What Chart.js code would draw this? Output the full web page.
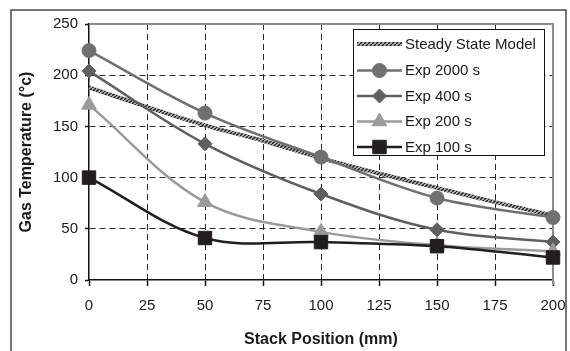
<!DOCTYPE html>
<html><head><meta charset="utf-8">
<script src="https://cdn.jsdelivr.net/npm/chart.js@4.4.1/dist/chart.umd.min.js"></script>
<style>html,body{margin:0;padding:0;background:#fff;}#wrap{width:570px;height:351px;position:relative;}</style>
</head><body><div id="wrap"><canvas id="c" width="570" height="351"></canvas></div>
<script>
// ---- data ----
const stackPositions = [0, 50, 100, 150, 200];
const exp2000 = [224, 163, 120, 80, 61];
const exp400 = [204, 133, 84, 49, 37];
const exp200 = [171, 76, 47, 34, 28];
const exp100 = [100, 41, 37, 33, 22];
const modelPositions = [0, 25, 50, 75, 100, 125, 150, 175, 200];
const modelValues = [188, 169, 151, 136, 119, 104, 90, 76, 63];
const xTickValues = [0, 25, 50, 75, 100, 125, 150, 175, 200];
const yTickValues = [0, 50, 100, 150, 200, 250];
const seriesLabels = ['Steady State Model', 'Exp 2000 s', 'Exp 400 s', 'Exp 200 s', 'Exp 100 s'];
const xTitle = 'Stack Position (mm)';
const yTitle = 'Gas Temperature (°c)';

const FONT = "'Liberation Sans', Arial, Helvetica, sans-serif";

function pts(xs, ys) { return xs.map((x, i) => ({x: x, y: ys[i]})); }

function hatchPattern() {
  const c = document.createElement('canvas'); c.width = 4; c.height = 4;
  const g = c.getContext('2d');
  g.fillStyle = '#ababab'; g.fillRect(0, 0, 4, 4);
  g.strokeStyle = '#222'; g.lineWidth = 1.3;
  g.beginPath(); g.moveTo(-1, 5); g.lineTo(5, -1); g.stroke();
  return g.createPattern(c, 'repeat');
}
const hatch = hatchPattern();

const expStyle = (color, style, r) => ({
  borderColor: color, backgroundColor: color, borderWidth: 2.5,
  pointStyle: style, pointRadius: r, pointHoverRadius: r,
  pointBackgroundColor: color, pointBorderColor: color, pointBorderWidth: 1,
  showLine: true, tension: 0.35, clip: false
});

const datasets = [
  Object.assign({label: seriesLabels[0], data: pts(modelPositions, modelValues),
    borderColor: hatch, backgroundColor: hatch, borderWidth: 4, pointRadius: 0,
    showLine: true, tension: 0.3, clip: false, order: 5}),
  Object.assign(expStyle('#707073', 'circle', 7), {label: seriesLabels[1], data: pts(stackPositions, exp2000), order: 4}),
  Object.assign(expStyle('#5f5f62', 'rectRot', 7), {label: seriesLabels[2], data: pts(stackPositions, exp400), order: 3}),
  Object.assign(expStyle('#9a9a9c', 'triangle', 8.5), {label: seriesLabels[3], data: pts(stackPositions, exp200), order: 2}),
  Object.assign(expStyle('#221e1f', 'rect', 9.5), {label: seriesLabels[4], data: pts(stackPositions, exp100), order: 1})
];

const frame = {
  id: 'frame',
  beforeDraw(chart) {
    const ctx = chart.ctx;
    ctx.save();
    ctx.fillStyle = '#fff'; ctx.fillRect(0, 0, chart.width, chart.height);
    ctx.strokeStyle = '#4a4a4a'; ctx.lineWidth = 1.5;
    ctx.strokeRect(11, 10, 555, 400);
    ctx.restore();
  },
  beforeDatasetsDraw(chart) {
    const a = chart.chartArea, ctx = chart.ctx;
    ctx.save();
    ctx.strokeStyle = '#8c8c8c'; ctx.lineWidth = 2;
    ctx.beginPath();
    ctx.moveTo(a.left, a.top); ctx.lineTo(a.right, a.top); ctx.lineTo(a.right, a.bottom + 5);
    ctx.stroke();
    ctx.restore();
  }
};

const legendBox = {
  id: 'legendBox',
  afterDraw(chart) {
    const ctx = chart.ctx;
    const bx = 353.5, by = 29.5, bw = 191, bh = 126;
    ctx.save();
    ctx.fillStyle = '#fff'; ctx.fillRect(bx, by, bw, bh);
    ctx.strokeStyle = '#111'; ctx.lineWidth = 1; ctx.strokeRect(bx, by, bw, bh);
    const rowY = [44, 70.5, 96, 121.5, 147];
    chart.data.datasets.forEach((ds, i) => {
      const y = rowY[i];
      ctx.save();
      ctx.strokeStyle = ds.borderColor; ctx.lineWidth = ds.borderWidth;
      ctx.beginPath(); ctx.moveTo(357, y); ctx.lineTo(402, y); ctx.stroke();
      if (ds.pointRadius > 0) {
        ctx.fillStyle = ds.pointBackgroundColor; ctx.strokeStyle = ds.pointBorderColor;
        ctx.lineWidth = 1;
        Chart.helpers.drawPoint(ctx, {pointStyle: ds.pointStyle, radius: ds.pointRadius, rotation: 0, borderWidth: 1}, 379.5, y);
      }
      ctx.restore();
      ctx.fillStyle = '#1a1a1a';
      ctx.font = '15px ' + FONT;
      ctx.textBaseline = 'middle'; ctx.textAlign = 'left';
      ctx.fillText(ds.label, 405, y + 0.5);
    });
    ctx.restore();
  }
};

new Chart(document.getElementById('c'), {
  type: 'scatter',
  data: {datasets: datasets},
  options: {
    responsive: false, animation: false, devicePixelRatio: 1,
    layout: {padding: {top: 24, right: 17, bottom: 0, left: 11}},
    plugins: {legend: {display: false}, tooltip: {enabled: false}},
    scales: {
      x: {
        type: 'linear', min: 0, max: 200,
        afterBuildTicks: s => { s.ticks = xTickValues.map(v => ({value: v})); },
        afterFit: s => { s.height = 71; s.paddingLeft = 0; s.paddingRight = 0; },
        ticks: {color: '#1a1a1a', font: {family: FONT, size: 15}, padding: 11, maxRotation: 0},
        grid: {color: c => (c.tick && (c.tick.value === 0 || c.tick.value === 200)) ? 'rgba(0,0,0,0)' : '#2a2a2a',
               lineWidth: 1, tickLength: 6, tickColor: '#111', tickWidth: 1.5},
        border: {display: true, color: '#111', width: 1.5, dash: [6, 4]},
        title: {display: true, text: xTitle, color: '#1a1a1a', font: {family: FONT, size: 16, weight: 'bold'}, padding: {top: 0, bottom: 1.4}}
      },
      y: {
        type: 'linear', min: 0, max: 250,
        afterBuildTicks: s => { s.ticks = yTickValues.map(v => ({value: v})); },
        afterFit: s => { s.width = 78; s.paddingTop = 0; s.paddingBottom = 0; },
        ticks: {color: '#1a1a1a', font: {family: FONT, size: 15}, padding: 7},
        grid: {color: c => (c.tick && (c.tick.value === 0 || c.tick.value === 250)) ? 'rgba(0,0,0,0)' : '#2a2a2a',
               lineWidth: 1, tickLength: 4, tickColor: '#111', tickWidth: 1.5},
        border: {display: true, color: '#111', width: 1.5, dash: [6, 4]},
        title: {display: true, text: yTitle, color: '#1a1a1a', font: {family: FONT, size: 16, weight: 'bold'}, padding: {top: 6.4, bottom: 0}}
      }
    }
  },
  plugins: [frame, legendBox]
});
</script></body></html>
